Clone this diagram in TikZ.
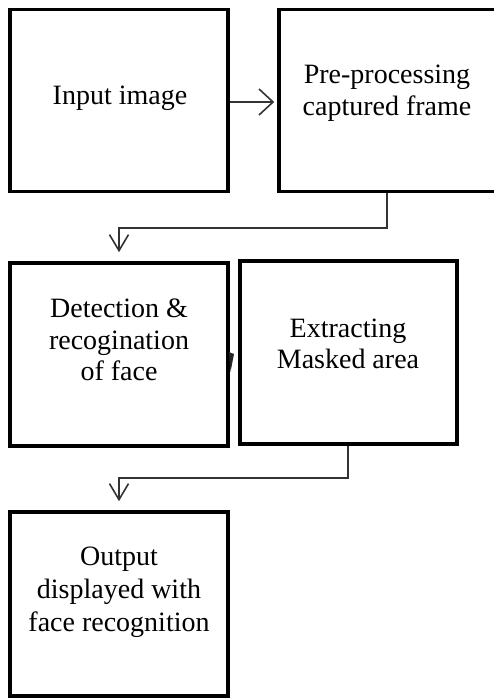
\documentclass[tikz,border=0pt]{standalone}
\usepackage{fontspec}
\setmainfont{Liberation Serif}
\usetikzlibrary{arrows.meta,shadows}
\begin{document}
\begin{tikzpicture}[x=1pt,y=-1pt,
  box/.style={draw=black, line width=3.6pt, fill=white, rectangle, inner sep=0pt,
    minimum width=218pt, minimum height=182pt,
    drop shadow={shadow xshift=1.2pt, shadow yshift=-2pt, opacity=0.25, fill=black!60}},
  lbl/.style={align=center, font=\fontsize{28}{31.5}\selectfont, text=black, inner sep=0pt},
  conn/.style={draw=black!80, line width=1.4pt},
  headh/.style={-{Straight Barb[length=14pt,width=26pt,line width=1.6pt]}},
  headv/.style={-{Straight Barb[length=16pt,width=19pt,line width=1.6pt]}}
]
\useasboundingbox (0,0) rectangle (494,700);
\clip (0,0) rectangle (494,700);
\fill[white] (0,0) rectangle (494,700);

% boxes
\node[box] (b1) at (119,100.5) {};
\node[box, minimum width=224pt] (b2) at (391,100.5) {};
\node[box, minimum height=183pt] (b3) at (119,354.5) {};
\node[box, minimum width=217pt, minimum height=183pt] (b4) at (348.5,352.5) {};
\node[box, minimum height=184pt] (b5) at (119,604) {};

% labels
\node[lbl] (t1) at (120,98) {Input image};
\node[lbl] (t2) at (387,93) {Pre-processing\\captured frame};
\node[lbl] (t3) at (119,340) {Detection \&\\recogination\\of face};
\node[lbl] (t4) at (348,344) {Extracting\\Masked area};
\node[lbl, font=\fontsize{28}{33}\selectfont] (t5) at (119,592) {Output\\displayed with\\face recognition};

% connectors
\draw[conn, headh, shorten >=3pt] (b1.east |- 0,102) -- (b2.west |- 0,102);
\coordinate (c1) at (387,228);
\draw[conn, headv, shorten >=9pt] (b2.south -| c1) -- (c1) -| (b3.north);
\coordinate (c2) at (348,478);
\draw[conn, headv, shorten >=9pt] (b4.south -| c2) -- (c2) -| (b5.north);

% small hidden arrow tip between boxes 3 and 4
\fill[black!85] (229,352) -- (234,354) -- (230.5,372) -- cycle;
\end{tikzpicture}
\end{document}
